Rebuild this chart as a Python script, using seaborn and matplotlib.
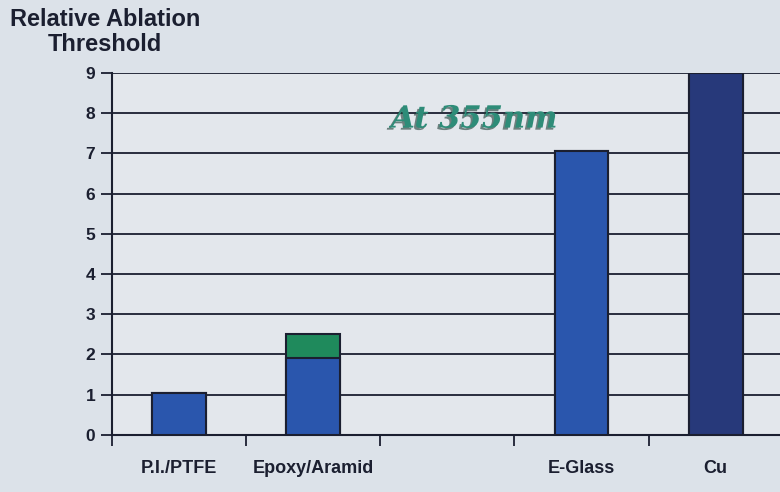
import numpy as np
import pandas as pd
import seaborn as sns
import matplotlib
matplotlib.use("Agg")
import matplotlib.pyplot as plt
import matplotlib.patheffects as pe
from matplotlib.ticker import FixedLocator

# данные
categories = ["P.I./PTFE", "Epoxy/Aramid", "E-Glass", "Cu"]
slot_order = ["P.I./PTFE", "Epoxy/Aramid", " ", "E-Glass", "Cu"]  # пустой слот между группами
base_values = [1.05, 1.9, 7.05, 9.0]
extra_values = [0.0, 0.6, 0.0, 0.0]  # зелёная надстройка у Epoxy/Aramid
base_colors = ["#2a56ad", "#2a56ad", "#2a56ad", "#27397a"]
extra_color = "#1f8a5c"
y_ticks = [0, 1, 2, 3, 4, 5, 6, 7, 8, 9]


def main():
    sns.set_theme(style="white")
    plt.rcParams['font.family'] = ['Liberation Sans', 'DejaVu Sans']
    ink = "#1b1f30"

    df = pd.DataFrame({'cat': categories,
                       'base': base_values,
                       'total': np.array(base_values) + np.array(extra_values)})

    fig = plt.figure(figsize=(7.8, 4.92), dpi=100, facecolor="#dce2e9")
    ax = fig.add_axes([0.1436, 0.116, 0.86, 0.736])
    ax.set_facecolor("#e3e7ec")

    # горизонтальные линии сетки
    for y in y_ticks:
        ax.axhline(y, color=ink, lw=1.3, zorder=0)

    sns.barplot(data=df, x='cat', y='total', order=slot_order, color=extra_color,
                saturation=1, width=0.4, edgecolor=ink, linewidth=1.5, ax=ax, zorder=2)
    sns.barplot(data=df, x='cat', y='base', order=slot_order, hue='cat',
                palette=dict(zip(categories, base_colors)), legend=False, saturation=1,
                width=0.4, edgecolor=ink, linewidth=1.5, ax=ax, zorder=3)

    ax.set_ylim(0, 9)
    ax.set_xlim(-0.5, 4.5)
    ax.set_xlabel('')
    ax.set_ylabel('')
    ax.set_yticks(y_ticks)
    ax.set_yticklabels([str(v) for v in y_ticks], fontsize=12.5, fontweight='bold', color=ink)
    ax.tick_params(axis='y', length=8, width=1.3, color=ink, pad=4, left=True)

    ax.set_xticks(range(len(slot_order)))
    ax.set_xticklabels(slot_order, fontsize=13, fontweight='bold', color=ink)
    ax.tick_params(axis='x', which='major', length=0, pad=18)
    ax.xaxis.set_minor_locator(FixedLocator(np.arange(-0.5, 5.0, 1.0)))
    ax.tick_params(axis='x', which='minor', length=8, width=1.3, color=ink, bottom=True)

    for side in ['top', 'right']:
        ax.spines[side].set_visible(False)
    for side in ['left', 'bottom']:
        ax.spines[side].set_color(ink)
        ax.spines[side].set_linewidth(1.5)

    ax.text(2.2, 7.85, 'At 355nm', family=['DejaVu Serif'],
            fontsize=22, fontweight='bold', fontstyle='italic', color="#2e8c78",
            ha='center', va='center', zorder=5,
            path_effects=[pe.withSimplePatchShadow(offset=(-1.5, -1.5),
                                                   shadow_rgbFace="#1d3b35", alpha=0.6)])

    fig.text(0.135, 0.935, 'Relative Ablation\nThreshold', ha='center', va='center',
             fontsize=17, fontweight='bold', color=ink, linespacing=1.1)

    fig.savefig('out.png', dpi=100, facecolor=fig.get_facecolor())


if __name__ == '__main__':
    main()
